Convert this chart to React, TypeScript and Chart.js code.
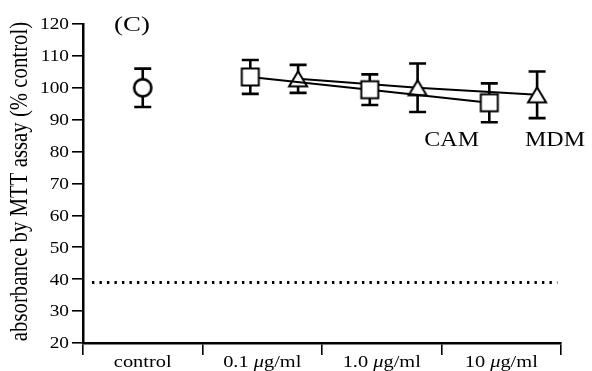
import React, { useEffect, useRef } from "react";
import { Chart, registerables } from "chart.js";

Chart.register(...registerables);

// ---------- data ----------
const categories = ["control", "0.1 μg/ml", "1.0 μg/ml", "10 μg/ml"];
const controlValues = [100];
const controlErrors = [6];
const camValues = [103.4, 99.4, 95.3];
const camErrors = [5.3, 4.8, 6.1];
const mdmValues = [102.8, 100.0, 97.8];
const mdmErrors = [4.4, 7.6, 7.3];
const thresholdValue = 39;
const yTicks = [20, 30, 40, 50, 60, 70, 80, 90, 100, 110, 120];
const seriesNames = ["CAM", "MDM"];
const panelLabel = "(C)";
const yTitle = "absorbance by MTT assay (% control)";

// ---------- layout helpers (positions, not values) ----------
const CAM_OFFSET = -0.1;
const MDM_OFFSET = 0.3;
const FONT = '"Liberation Serif", "Times New Roman", serif';
const SX = 1.2;

const camX = camValues.map((_, i) => i + 1 + 0.5 + CAM_OFFSET);
const mdmX = mdmValues.map((_, i) => i + 1 + 0.5 + MDM_OFFSET);
const controlX = [0.5];

function makeMarker(kind: "square" | "triangle" | "circle"): HTMLCanvasElement {
  const c = document.createElement("canvas");
  c.width = 24;
  c.height = 24;
  const g = c.getContext("2d")!;
  g.fillStyle = "#fff";
  g.strokeStyle = "#000";
  g.beginPath();
  if (kind === "square") {
    g.lineWidth = 2;
    g.rect(3.5, 3.5, 17, 17);
  } else if (kind === "triangle") {
    g.lineWidth = 2;
    g.lineJoin = "miter";
    g.moveTo(12, 4.5);
    g.lineTo(21, 19.5);
    g.lineTo(3, 19.5);
    g.closePath();
  } else {
    g.lineWidth = 2.6;
    g.arc(12, 12, 8.6, 0, Math.PI * 2);
  }
  g.fill();
  g.stroke();
  return c;
}

type Part = { t: string; i?: boolean };

function splitMu(label: string): Part[] {
  const parts: Part[] = [];
  const idx = label.indexOf("μ");
  if (idx < 0) return [{ t: label }];
  parts.push({ t: label.slice(0, idx) });
  parts.push({ t: "μ", i: true });
  parts.push({ t: label.slice(idx + 1) });
  return parts;
}

function drawParts(
  ctx: CanvasRenderingContext2D,
  parts: Part[],
  x: number,
  y: number,
  size: number,
  align: "left" | "center" | "right",
  baseline: CanvasTextBaseline,
  sx = SX
) {
  ctx.save();
  ctx.translate(x, y);
  ctx.scale(sx, 1);
  ctx.fillStyle = "#000";
  ctx.textAlign = "left";
  ctx.textBaseline = baseline;
  const fontFor = (p: Part) => `${p.i ? "italic " : ""}${size}px ${FONT}`;
  let w = 0;
  for (const p of parts) {
    ctx.font = fontFor(p);
    w += ctx.measureText(p.t).width;
  }
  let cur = align === "center" ? -w / 2 : align === "right" ? -w : 0;
  for (const p of parts) {
    ctx.font = fontFor(p);
    ctx.fillText(p.t, cur, 0);
    cur += ctx.measureText(p.t).width;
  }
  ctx.restore();
}

const errorBarPlugin = {
  id: "errorBars",
  beforeDatasetsDraw(chart: any) {
    const { ctx } = chart;
    const xs = chart.scales.x;
    const ys = chart.scales.y;
    const groups = [
      { x: controlX, v: controlValues, e: controlErrors },
      { x: camX, v: camValues, e: camErrors },
      { x: mdmX, v: mdmValues, e: mdmErrors },
    ];
    ctx.save();
    ctx.strokeStyle = "#000";
    ctx.lineWidth = 2.6;
    ctx.lineCap = "butt";
    const cap = 8.5;
    for (const g of groups) {
      g.v.forEach((v, i) => {
        const px = xs.getPixelForValue(g.x[i]);
        const top = ys.getPixelForValue(v + g.e[i]);
        const bot = ys.getPixelForValue(v - g.e[i]);
        ctx.beginPath();
        ctx.moveTo(px, top);
        ctx.lineTo(px, bot);
        ctx.moveTo(px - cap, top);
        ctx.lineTo(px + cap, top);
        ctx.moveTo(px - cap, bot);
        ctx.lineTo(px + cap, bot);
        ctx.stroke();
      });
    }
    ctx.restore();
  },
};

const textPlugin = {
  id: "texts",
  afterDraw(chart: any) {
    const { ctx } = chart;
    const xs = chart.scales.x;
    const ys = chart.scales.y;
    // y tick labels
    for (const t of yTicks) {
      drawParts(ctx, [{ t: String(t) }], xs.left - 14, ys.getPixelForValue(t) + 1, 16.5, "right", "middle", 1.17);
    }
    // category labels
    categories.forEach((c, i) => {
      drawParts(ctx, splitMu(c), xs.getPixelForValue(i + 0.5), ys.bottom + 24, 17, "center", "alphabetic");
    });
    // series labels
    drawParts(ctx, [{ t: seriesNames[0] }], xs.getPixelForValue(3.085), ys.getPixelForValue(81.9), 20, "center", "alphabetic");
    drawParts(ctx, [{ t: seriesNames[1] }], xs.getPixelForValue(3.95), ys.getPixelForValue(81.9), 20, "center", "alphabetic");
    // panel label
    drawParts(ctx, [{ t: panelLabel }], xs.getPixelForValue(0.41), ys.getPixelForValue(117.8), 22, "center", "alphabetic", 1.22);
    // y title
    ctx.save();
    ctx.translate(20.5, (ys.top + ys.bottom) / 2 - 2);
    ctx.scale(SX, 1);
    ctx.rotate(-Math.PI / 2);
    ctx.fillStyle = "#000";
    ctx.font = `20.8px ${FONT}`;
    ctx.textAlign = "center";
    ctx.textBaseline = "middle";
    ctx.fillText(yTitle, 0, 0);
    ctx.restore();
  },
};

export default function App() {
  const ref = useRef<HTMLCanvasElement | null>(null);
  useEffect(() => {
    if (!ref.current) return;
    const square = makeMarker("square");
    const triangle = makeMarker("triangle");
    const circle = makeMarker("circle");
    const chart = new Chart(ref.current, {
      type: "line",
      data: {
        datasets: [
          {
            label: "threshold",
            data: [
              { x: 0.075, y: thresholdValue },
              { x: 3.97, y: thresholdValue },
            ],
            borderColor: "#000",
            borderWidth: 3,
            borderDash: [2.4, 5.1],
            pointRadius: 0,
          },
          {
            label: "control",
            data: controlValues.map((v, i) => ({ x: controlX[i], y: v })),
            showLine: false,
            pointStyle: circle as any,
            pointRadius: 10,
          },
          {
            label: seriesNames[0],
            data: camValues.map((v, i) => ({ x: camX[i], y: v })),
            borderColor: "#000",
            borderWidth: 2,
            pointStyle: square as any,
            pointRadius: 10,
          },
          {
            label: seriesNames[1],
            data: mdmValues.map((v, i) => ({ x: mdmX[i], y: v })),
            borderColor: "#000",
            borderWidth: 2,
            pointStyle: triangle as any,
            pointRadius: 10,
          },
        ],
      },
      options: {
        responsive: false,
        animation: false,
        layout: { padding: { top: 24, right: 31, left: 0, bottom: 0 } },
        plugins: { legend: { display: false }, tooltip: { enabled: false } },
        scales: {
          x: {
            type: "linear",
            min: 0,
            max: 4,
            afterBuildTicks: (s: any) => {
              s.ticks = [0, 1, 2, 3, 4].map((v) => ({ value: v }));
            },
            afterFit: (s: any) => {
              s.height = 28;
            },
            ticks: { display: false },
            grid: { drawOnChartArea: false, drawTicks: true, tickLength: 12, color: "#000", lineWidth: 1.6 },
            border: { color: "#000", width: 2.5 },
          },
          y: {
            type: "linear",
            min: 20,
            max: 120,
            afterBuildTicks: (s: any) => {
              s.ticks = yTicks.map((v) => ({ value: v }));
            },
            afterFit: (s: any) => {
              s.width = 83;
            },
            ticks: { display: false },
            grid: { drawOnChartArea: false, drawTicks: true, tickLength: 11, color: "#000", lineWidth: 1.6 },
            border: { color: "#000", width: 2.5 },
          },
        },
      },
      plugins: [errorBarPlugin, textPlugin],
    });
    return () => chart.destroy();
  }, []);
  return (
    <div style={{ position: "absolute", left: 0, top: 0, width: 592, height: 371, background: "#fff" }}>
      <canvas ref={ref} width={592} height={371} />
    </div>
  );
}
